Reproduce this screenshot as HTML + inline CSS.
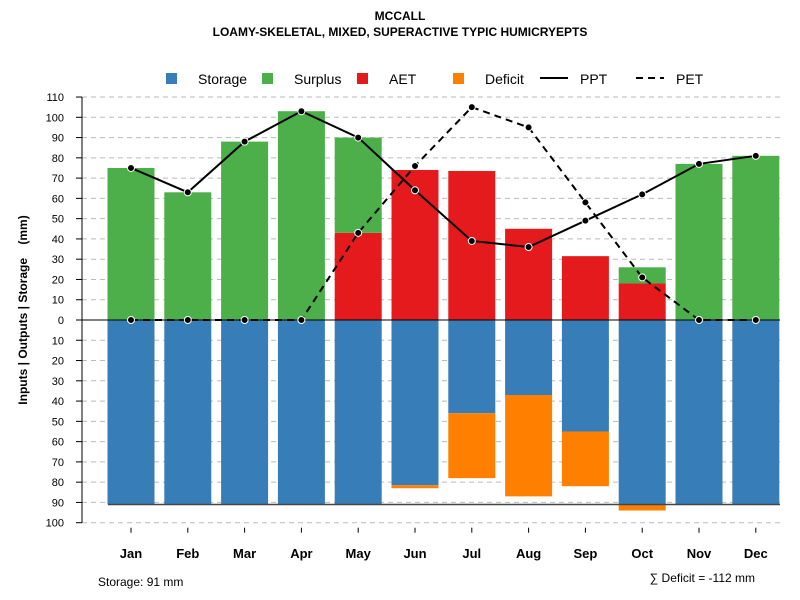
<!DOCTYPE html>
<html><head><meta charset="utf-8"><style>
body{margin:0;background:#fff;font-family:"Liberation Sans",sans-serif}
svg{display:block}
text{font-family:"Liberation Sans",sans-serif}
</style></head><body>
<svg id="c" width="800" height="600"></svg>
<script>
const months=["Jan","Feb","Mar","Apr","May","Jun","Jul","Aug","Sep","Oct","Nov","Dec"];
const aet=[0,0,0,0,43,74,73.5,45,31.5,18,0,0];
const surplus=[75,63,88,103,47,0,0,0,0,8,77,81];
const storage=[91,91,91,91,91,81.5,46,37,55,91,91,91];
const deficit=[0,0,0,0,0,1.5,32,50,27,3,0,0];
const ppt=[75,63,88,103,90,64,39,36,49,62,77,81];
const pet=[0,0,0,0,43,76,105,95,58,21,0,0];
const yTicks=[0,10,20,30,40,50,60,70,80,90,100,110];
const ns="http://www.w3.org/2000/svg",svg=document.getElementById('c');
function mk(t,a,p){const e=document.createElementNS(ns,t);for(const k in a)e.setAttribute(k,a[k]);(p||svg).appendChild(e);return e;}
const x=i=>131+i*56.8, yU=v=>320-v*2.027, yD=v=>320+v*2.027, bw=47;
let e;
e=mk('text',{x:400,y:20,'text-anchor':'middle','font-size':12,'font-weight':'bold'});e.textContent="MCCALL";

e=mk('text',{x:400,y:36,'text-anchor':'middle','font-size':12,'font-weight':'bold'});e.textContent="LOAMY-SKELETAL, MIXED, SUPERACTIVE TYPIC HUMICRYEPTS";

yTicks.forEach(v=>{[yU(v),yD(v)].forEach((y,j)=>{if(j==1&&(v==0||v==110))return;
e=mk('line',{x1:82,x2:780,y1:y,y2:y,stroke:'#bbb','stroke-dasharray':'5,4'});

e=mk('line',{x1:76,x2:82,y1:y,y2:y,stroke:'#000'});

e=mk('text',{x:64,y:y+4,'text-anchor':'end','font-size':11});e.textContent=v;
});});
e=mk('line',{x1:82,x2:82,y1:yU(110),y2:yD(100),stroke:'#000'});

months.forEach((m,i)=>{const l=x(i)-bw/2;
if(aet[i]>0){e=mk('rect',{x:l,y:yU(aet[i]),width:bw,height:aet[i]*2.027,fill:'#e41a1c'});
}
if(surplus[i]>0){e=mk('rect',{x:l,y:yU(aet[i]+surplus[i]),width:bw,height:surplus[i]*2.027,fill:'#4daf4a'});
}
e=mk('rect',{x:l,y:320,width:bw,height:storage[i]*2.027,fill:'#377eb8'});

if(deficit[i]>0){e=mk('rect',{x:l,y:yD(storage[i]),width:bw,height:deficit[i]*2.027,fill:'#ff7f00'});
}
e=mk('line',{x1:x(i),x2:x(i),y1:yD(100)+5,y2:yD(100)+10,stroke:'#000'});

e=mk('text',{x:x(i),y:558,'text-anchor':'middle','font-size':13,'font-weight':'bold'});e.textContent=m;
});
e=mk('line',{x1:82,x2:780,y1:320,y2:320,stroke:'#000'});

e=mk('line',{x1:108,x2:780,y1:yD(91),y2:yD(91),stroke:'#444','stroke-width':1.5});

function series(d,dash,name){const p=d.map((v,i)=>x(i)+','+yU(v)).join(' ');
e=mk('polyline',{points:p,fill:'none',stroke:'#000','stroke-width':2,'stroke-dasharray':dash});

d.forEach((v,i)=>{e=mk('circle',{cx:x(i),cy:yU(v),r:3.5,fill:'#000',stroke:'#fff','stroke-width':1});
});}
series(pet,'7,5','pet');series(ppt,'none','ppt');
const lg=mk('g',{});
[["Storage","#377eb8",166,198],["Surplus","#4daf4a",262,294],["AET","#e41a1c",357,389],["Deficit","#ff7f00",453,485]].forEach(a=>{
e=mk('rect',{x:a[2],y:73,width:11,height:11,fill:a[1]},lg);
e=mk('text',{x:a[3],y:84,'font-size':14},lg);e.textContent=a[0];});
e=mk('line',{x1:540,x2:568,y1:78,y2:78,stroke:'#000','stroke-width':2},lg);
e=mk('text',{x:580,y:84,'font-size':14},lg);e.textContent="PPT";
e=mk('line',{x1:636,x2:664,y1:78,y2:78,stroke:'#000','stroke-width':2,'stroke-dasharray':'7,5'},lg);
e=mk('text',{x:676,y:84,'font-size':14},lg);e.textContent="PET";
e=mk('text',{x:0,y:0,'font-size':12,'font-weight':'bold','text-anchor':'middle',style:'white-space:pre',transform:'translate(27,310) rotate(-90)'});
e.textContent="Inputs | Outputs | Storage    (mm)";
e=mk('text',{x:98,y:586,'font-size':12});e.textContent="Storage: 91 mm";
e=mk('text',{x:755,y:582,'font-size':12,'text-anchor':'end'});e.textContent="∑ Deficit = -112 mm";
</script>
</body></html>
